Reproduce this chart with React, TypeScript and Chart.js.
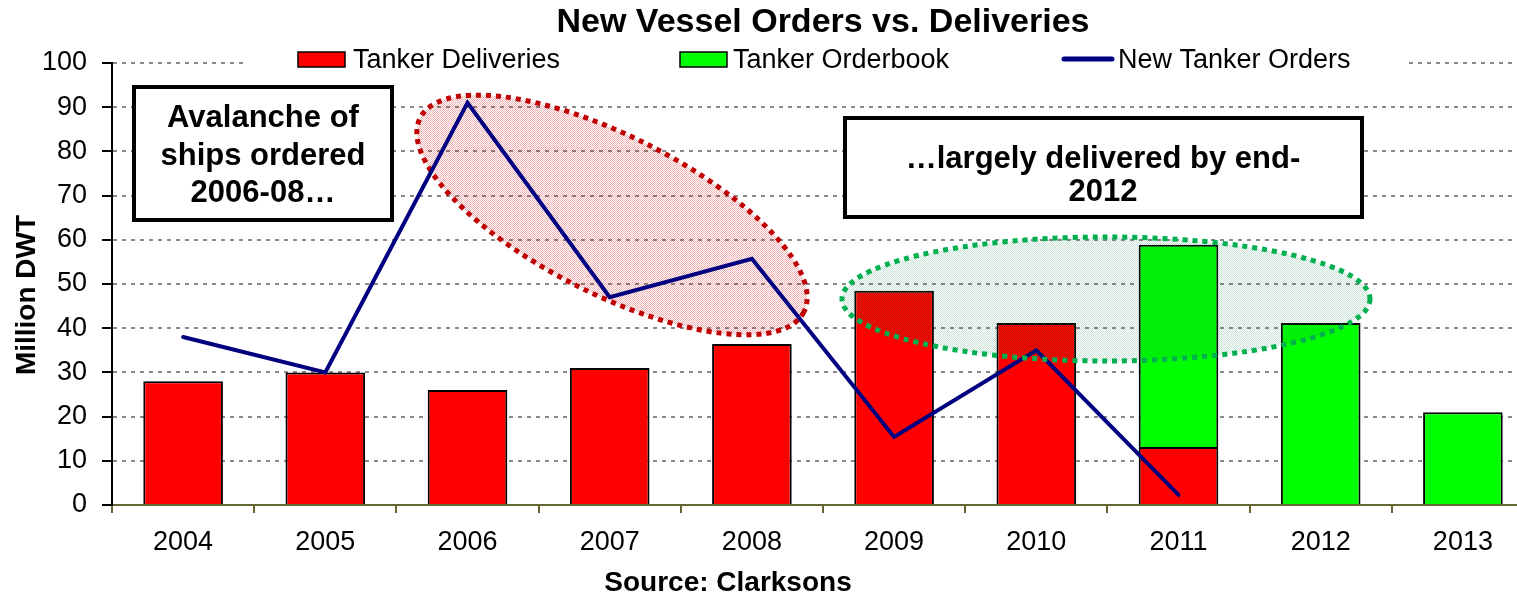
import { useEffect, useRef } from 'react';
import { Chart, registerables } from 'chart.js';

Chart.register(...registerables);

const years = ['2004', '2005', '2006', '2007', '2008', '2009', '2010', '2011', '2012', '2013'];
const tankerDeliveries = [28, 30, 26, 31, 36.4, 48.5, 41.2, 13.1, null, null];
const tankerOrderbook = [null, null, null, null, null, null, null, 45.8, 41.2, 21];
const newTankerOrders = [38, 30, 91, 47, 55.7, 15.4, 35, 2.3, null, null];
const yMin = 0;
const yMax = 100;
const yStep = 10;

const chartTitle = 'New Vessel Orders vs. Deliveries';
const seriesNames = ['Tanker Deliveries', 'Tanker Orderbook', 'New Tanker Orders'];
const yAxisTitle = 'Million DWT';
const xAxisTitle = 'Source: Clarksons';
const note1Lines = ['Avalanche of', 'ships ordered', '2006-08…'];
const note2Lines = ['…largely delivered by end-', '2012'];

const FONT = "'Liberation Sans', Arial, Helvetica, sans-serif";
const RED = '#FF0000';
const GREEN = '#00FF00';
const NAVY = '#000080';

function makePattern(ctx: CanvasRenderingContext2D, color: string) {
  const c = document.createElement('canvas');
  c.width = 2;
  c.height = 2;
  const p = c.getContext('2d')!;
  p.fillStyle = color;
  p.fillRect(0, 0, 1, 1);
  p.fillRect(1, 1, 1, 1);
  return ctx.createPattern(c, 'repeat')!;
}

function drawEllipse(ctx: CanvasRenderingContext2D, cx: number, cy: number, a: number, b: number, rot: number, fill: CanvasPattern, stroke: string) {
  ctx.save();
  ctx.beginPath();
  ctx.ellipse(cx, cy, a, b, rot, 0, Math.PI * 2);
  ctx.fillStyle = fill;
  ctx.fill();
  ctx.setLineDash([5, 5]);
  ctx.lineWidth = 5;
  ctx.strokeStyle = stroke;
  ctx.stroke();
  ctx.restore();
}

function drawNote(ctx: CanvasRenderingContext2D, x: number, y: number, w: number, h: number, lines: string[], cx: number, baselines: number[]) {
  ctx.save();
  ctx.fillStyle = '#FFFFFF';
  ctx.fillRect(x, y, w, h);
  ctx.lineWidth = 4;
  ctx.strokeStyle = '#000';
  ctx.strokeRect(x + 2, y + 2, w - 4, h - 4);
  ctx.fillStyle = '#000';
  ctx.font = `bold 31px ${FONT}`;
  ctx.textAlign = 'center';
  ctx.textBaseline = 'alphabetic';
  lines.forEach((t, i) => ctx.fillText(t, cx, baselines[i]));
  ctx.restore();
}

export default function App() {
  const ref = useRef<HTMLCanvasElement>(null);

  useEffect(() => {
    const canvas = ref.current!;
    const ctx0 = canvas.getContext('2d')!;
    const redPattern = makePattern(ctx0, 'rgba(200,0,0,0.3)');
    const greenPattern = makePattern(ctx0, 'rgba(0,120,60,0.22)');

    const annotations = {
      id: 'annotations',
      beforeDatasetsDraw(chart: any) {
        const ctx = chart.ctx as CanvasRenderingContext2D;
        drawEllipse(ctx, 612, 215, 215, 79, (26.8 * Math.PI) / 180, redPattern, '#C00000');
      },
      afterDatasetsDraw(chart: any) {
        const ctx = chart.ctx as CanvasRenderingContext2D;
        drawEllipse(ctx, 1106, 299, 264, 62, 0, greenPattern, '#00B050');
      },
      afterDraw(chart: any) {
        const ctx = chart.ctx as CanvasRenderingContext2D;
        const area = chart.chartArea;
        // notes
        drawNote(ctx, 132, 85, 262, 137, note1Lines, 263, [127, 165, 202]);
        drawNote(ctx, 843, 116, 521, 103, note2Lines, 1103, [168, 201]);

        // legend
        ctx.save();
        ctx.fillStyle = '#FFFFFF';
        ctx.fillRect(245, 44, 1160, 34);
        ctx.font = `27px ${FONT}`;
        ctx.textAlign = 'left';
        ctx.textBaseline = 'alphabetic';
        ctx.lineWidth = 1.5;
        ctx.strokeStyle = '#000';
        ctx.fillStyle = RED;
        ctx.fillRect(298, 52, 47, 15);
        ctx.strokeRect(298, 52, 47, 15);
        ctx.fillStyle = GREEN;
        ctx.fillRect(680, 52, 47, 15);
        ctx.strokeRect(680, 52, 47, 15);
        ctx.beginPath();
        ctx.moveTo(1064, 59);
        ctx.lineTo(1112, 59);
        ctx.lineWidth = 5;
        ctx.lineCap = 'round';
        ctx.strokeStyle = NAVY;
        ctx.stroke();
        ctx.fillStyle = '#000';
        ctx.fillText(seriesNames[0], 353, 68);
        ctx.fillText(seriesNames[1], 733, 68);
        ctx.fillText(seriesNames[2], 1118, 68);
        ctx.restore();

        // chart title
        ctx.save();
        ctx.fillStyle = '#000';
        ctx.font = `bold 34px ${FONT}`;
        ctx.textAlign = 'center';
        ctx.textBaseline = 'alphabetic';
        ctx.fillText(chartTitle, (area.left + area.right) / 2, 32);
        // x axis title
        ctx.font = `bold 28px ${FONT}`;
        ctx.fillText(xAxisTitle, 728, 591);
        // y axis title
        ctx.translate(35, 295);
        ctx.rotate(-Math.PI / 2);
        ctx.fillText(yAxisTitle, 0, 0);
        ctx.restore();
      },
    };

    const chart = new Chart(canvas, {
      type: 'bar',
      data: {
        labels: years,
        datasets: [
          {
            type: 'bar',
            label: seriesNames[0],
            data: tankerDeliveries,
            backgroundColor: RED,
            borderColor: '#000',
            borderWidth: 2,
            barPercentage: 0.56,
            categoryPercentage: 1,
            stack: 'ships',
            order: 1,
          },
          {
            type: 'bar',
            label: seriesNames[1],
            data: tankerOrderbook,
            backgroundColor: GREEN,
            borderColor: '#000',
            borderWidth: 2,
            barPercentage: 0.56,
            categoryPercentage: 1,
            stack: 'ships',
            order: 1,
          },
          {
            type: 'line',
            label: seriesNames[2],
            data: newTankerOrders,
            borderColor: NAVY,
            backgroundColor: NAVY,
            borderWidth: 4,
            pointRadius: 0,
            tension: 0,
            fill: false,
            stack: 'orders',
            order: 0,
            borderJoinStyle: 'miter',
            borderCapStyle: 'round',
          },
        ] as any,
      },
      options: {
        responsive: false,
        maintainAspectRatio: false,
        animation: false,
        layout: { padding: { top: 63, right: 11, bottom: 0, left: 0 } },
        plugins: {
          legend: { display: false },
          title: { display: false },
          tooltip: { enabled: false },
        },
        scales: {
          x: {
            stacked: true,
            offset: true,
            grid: {
              drawOnChartArea: false,
              offset: true,
              color: '#666633',
              lineWidth: 2,
              tickLength: 8,
            },
            border: { color: '#666633', width: 2 },
            ticks: {
              font: { family: FONT, size: 27 },
              color: '#000',
              padding: 13,
              maxRotation: 0,
              autoSkip: false,
            },
            afterFit: (s: any) => {
              s.height = 90;
            },
          },
          y: {
            stacked: true,
            min: yMin,
            max: yMax,
            ticks: {
              stepSize: yStep,
              font: { family: FONT, size: 27 },
              color: '#000',
              padding: 15,
            },
            grid: {
              color: (c: any) => (c.tick && c.tick.value === 0 ? 'rgba(0,0,0,0)' : '#8a8a8a'),
              lineWidth: 2,
              tickLength: 10,
              tickColor: '#000',
              tickWidth: 2,
            },
            border: { color: '#000', width: 2, dash: [4, 5] },
            afterFit: (s: any) => {
              s.width = 112;
            },
          },
        } as any,
      },
      plugins: [annotations],
    });

    return () => chart.destroy();
  }, []);

  return (
    <div
      style={{
        position: 'fixed',
        left: 0,
        top: 0,
        width: '1517px',
        height: '595px',
        overflow: 'hidden',
        background: '#fff',
      }}
    >
      <canvas ref={ref} width={1545} height={595} style={{ display: 'block', width: '1545px', height: '595px' }} />
    </div>
  );
}
